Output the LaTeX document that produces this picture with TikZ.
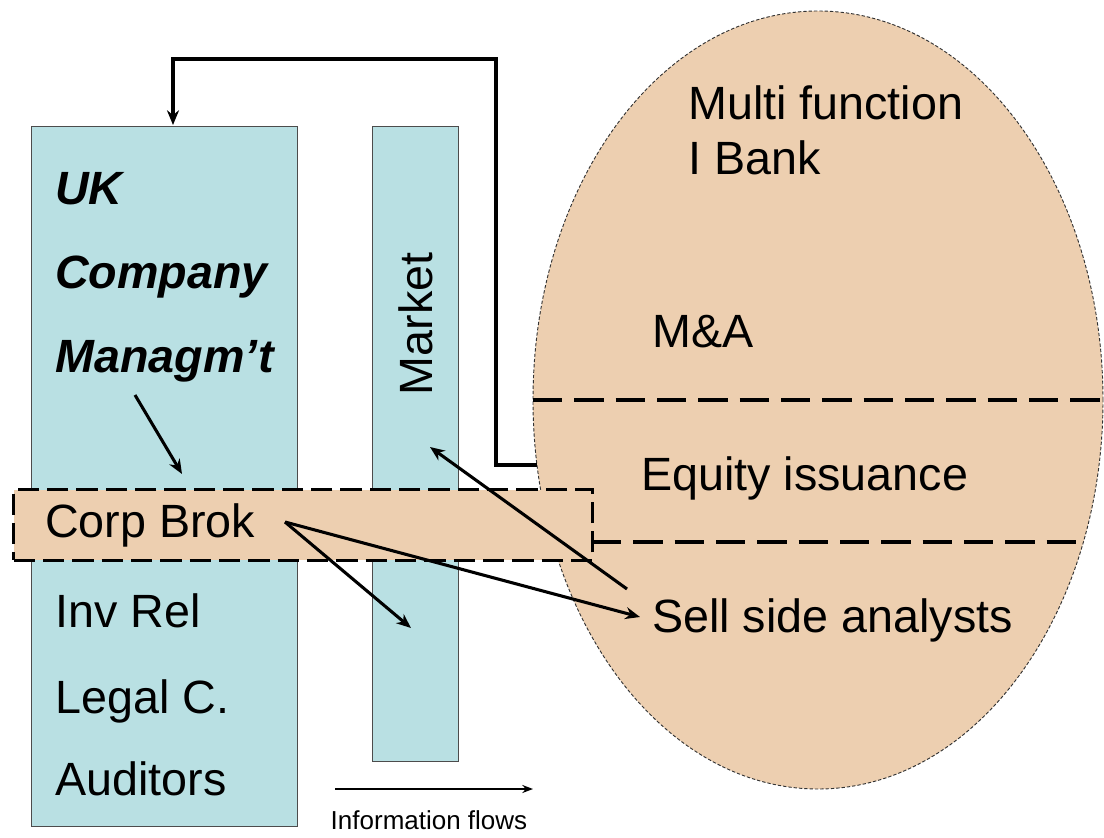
\documentclass[tikz,border=0pt]{standalone}
\usepackage{fontspec}
\setmainfont{Liberation Sans}
\usetikzlibrary{shapes.geometric, arrows.meta, positioning}
\definecolor{boxblue}{RGB}{185,224,227}
\definecolor{bankpeach}{RGB}{237,207,176}
\tikzstyle{partybox} = [rectangle, anchor=north west, inner sep=0pt, draw=gray!60!black, line width=0.9pt, fill=boxblue]
\tikzstyle{brokbox} = [rectangle, anchor=north west, inner sep=0pt, draw=black, line width=2.5pt, dash pattern=on 16pt off 6pt, fill=bankpeach]
\tikzstyle{bankshape} = [ellipse, inner sep=0pt, draw=gray!40!black, line width=0.7pt, dash pattern=on 2.5pt off 1.5pt, fill=bankpeach]
\tikzstyle{divider} = [draw=black, line width=2.6pt, dash pattern=on 22pt off 9pt]
\tikzstyle{bigtext} = [anchor=base west, inner sep=0pt, font=\fontsize{35}{40}\selectfont]
\tikzstyle{headtext} = [bigtext, font=\fontsize{35}{40}\selectfont\bfseries\itshape]
\tikzstyle{flow} = [-{Stealth[length=11pt, width=9pt]}, line width=2.3pt]

\begin{document}
\begin{tikzpicture}[x=0.75pt, y=-0.75pt]
\useasboundingbox (0,0) rectangle (1104,838);

% the bank
\node (bank) [bankshape, minimum width=427.5pt, minimum height=583.5pt] at (818,400) {};

% company and market columns
\node (company) [partybox, minimum width=199.5pt, minimum height=525pt] at (31,126) {};
\node (market) [partybox, minimum width=64.5pt, minimum height=476pt] at (372,126) {};
\node (brok) [brokbox, minimum width=434pt, minimum height=53pt] at (12,488) {};

% divisions of the bank
\coordinate (divAl) at (533,400);
\coordinate (divAr) at (1103,400);
\coordinate (divBl) at (592,542);
\coordinate (divBr) at (1084,542);
\draw[divider] (divAl) -- (divAr);
\draw[divider] (divBl) -- (divBr);

% texts
\node (uk) [headtext] at (55,205) {UK};
\node (comp) [headtext] at (55,288) {Company};
\node (mgmt) [headtext] at (55,372) {Managm’t};
\node (cb) [bigtext] at (45,537) {Corp Brok};
\node (invrel) [bigtext] at (55,627) {Inv Rel};
\node (legal) [bigtext] at (55,713) {Legal C.};
\node (audit) [bigtext] at (55,795) {Auditors};
\node (mkt) [font=\fontsize{35}{40}\selectfont, rotate=90, inner sep=0pt] at (416,324) {Market};
\node (multi) [bigtext] at (688,120) {Multi function};
\node (ibank) [bigtext] at (688,175) {I Bank};
\node (ma) [bigtext] at (652,347) {M\&A};
\node (equity) [bigtext] at (641,490) {Equity issuance};
\node (analysts) [bigtext] at (652,632) {Sell side analysts};

% arrow ends
\coordinate (mgmtout) at (135,395);
\coordinate (cbin) at (182,474);
\coordinate (cbsrc) at (285,522);
\coordinate (mktlow) at (411,628);
\coordinate (analin) at (640,617);
\coordinate (analsrc) at (627,589);
\coordinate (mktup) at (430,447);
\coordinate (fbstart) at (537,465);
\coordinate (fbtop) at (496,59);
\coordinate (fbend) at (173,125);

\draw[flow] (mgmtout) -- (cbin);
\draw[flow] (cbsrc) -- (mktlow);
\draw[flow] (cbsrc) -- (analin);
\draw[flow] (analsrc) -- (mktup);
\draw[flow] (fbstart) -| (fbtop) -| (fbend);

% legend
\coordinate (legstart) at (335,789);
\coordinate (legend) at (533,789);
\draw[flow, line width=1.6pt, -{Stealth[length=8pt, width=6pt]}] (legstart) -- (legend);
\node (legtext) [anchor=base, inner sep=0pt, font=\fontsize{19.5}{22}\selectfont] at (429,829) {Information flows};
\end{tikzpicture}
\end{document}
